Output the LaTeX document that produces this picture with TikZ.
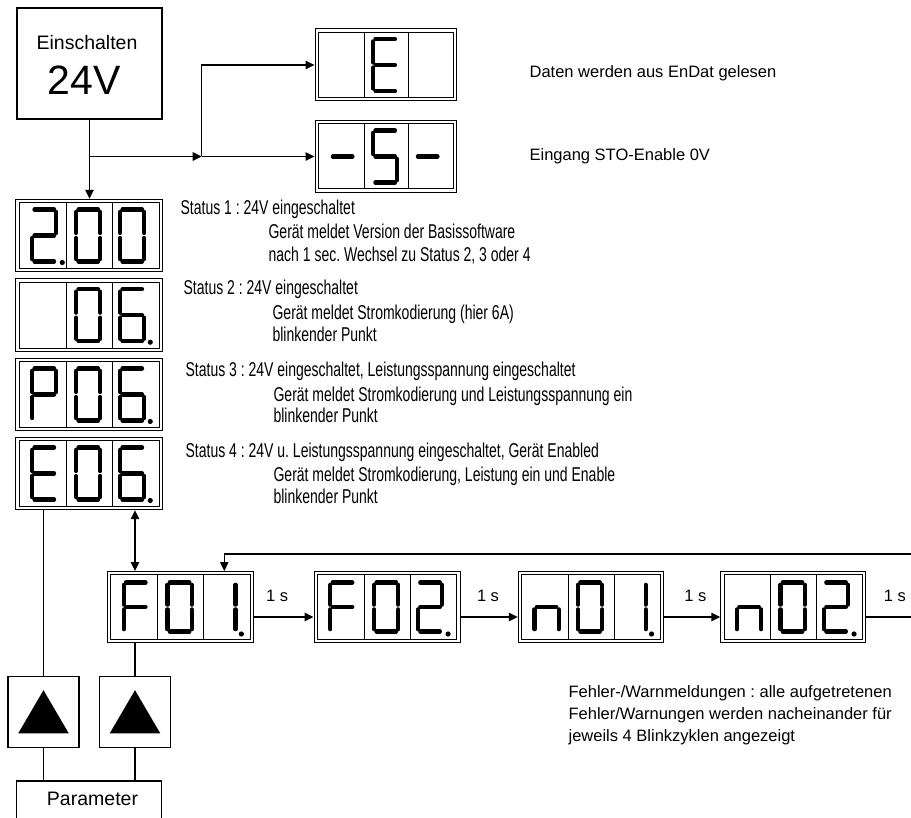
\documentclass[tikz,border=0pt]{standalone}
\usepackage{fontspec}
\setmainfont{Liberation Sans}
\newfontfamily\narrowfont{Liberation Sans}[FakeStretch=0.70]
\usetikzlibrary{arrows.meta,calc}
\frenchspacing

% segments of one digit, centre (0,0), y pointing down
\def\sega{(-9.8,-26) -- (9.8,-26)}
\def\segb{(12.1,-23.6) -- (12.1,-2.5)}
\def\segc{(12.1,2.5) -- (12.1,23.6)}
\def\segd{(-9.8,26) -- (9.8,26)}
\def\sege{(-12.1,2.5) -- (-12.1,23.6)}
\def\segf{(-12.1,-23.6) -- (-12.1,-2.5)}
\def\segg{(-9.8,0) -- (9.8,0)}
\def\segnone{(0,0)}

% lit segments of each symbol
\expandafter\def\csname segs0\endcsname{a,b,c,d,e,f}
\expandafter\def\csname segs1\endcsname{b,c}
\expandafter\def\csname segs2\endcsname{a,b,d,e,g}
\expandafter\def\csname segs6\endcsname{a,c,d,e,f,g}
\expandafter\def\csname segs-\endcsname{g}
\def\segsE{a,d,e,f,g}
\def\segsF{a,e,f,g}
\def\segsP{a,b,e,f,g}
\def\segsS{a,c,d,f,g}
\def\segsn{c,e,g}
\def\segsx{none}

\tikzset{
  seg/.style={line width=4.2pt, line cap=round},
  cell/.style={line width=0.8pt},
  disp/.style={draw, rectangle, double, double distance=2.3pt, line width=1pt,
    inner sep=0pt, outer sep=2.15pt},
  box/.style={draw, rectangle, line width=1.4pt, inner sep=0pt},
  txt/.style={anchor=base west, inner sep=0pt, font=\narrowfont\fontsize{20}{24}\selectfont},
  note/.style={anchor=base west, inner sep=0pt, font=\fontsize{16.5}{20}\selectfont},
  lbl/.style={anchor=base, inner sep=0pt, yshift=15.6pt, font=\fontsize{16.5}{20}\selectfont}
}

% x, y, symbol, dot, digit height scale
\newcommand{\digit}[5]{%
  \begin{scope}[shift={(#1,#2)}]
    \expandafter\let\expandafter\seglist\csname segs#3\endcsname
    \begin{scope}[yscale=#5]
      \foreach \s in \seglist {%
        \expandafter\let\expandafter\segpath\csname seg\s\endcsname
        \draw[seg] \segpath;}
    \end{scope}
    \ifnum#4=1 \fill (18,27) circle (2.6);\fi
  \end{scope}}

% name, cx, cy, width, height, symbols, cell with dot, digit scale
\newcommand{\panel}[8]{%
  \node[disp, minimum width={#4-3.3}, minimum height={#5-3.3}] (#1) at (#2,#3) {};
  \foreach \f in {0.345,0.66}
    \draw[cell] ({#2-#4/2+\f*#4},{#3-#5/2+3.3}) -- ++(0,{#5-6.6});
  \foreach \sym [count=\k] in {#6} {%
    \pgfmathsetmacro\digx{#2-#4/2+(0.195+0.3*(\k-1))*#4}
    \ifnum\k=#7 \def\dotflag{1}\else\def\dotflag{0}\fi
    \digit{\digx}{#3}{\sym}{\dotflag}{#8}}}

\begin{document}
\begin{tikzpicture}[x=1pt, y=-1pt, line width=1.2pt, >={Triangle[length=9pt,width=8.5pt]}]
\useasboundingbox (0,0) rectangle (911,818);
\clip (0,0) rectangle (911,818);

% switching on
\node[box, minimum width=145, minimum height=111] (power) at (89.5,63.5) {};
\node[anchor=base, inner sep=0pt, font=\fontsize{19.5}{22}\selectfont] (powtxt) at (87,50) {Einschalten};
\node[anchor=base, inner sep=0pt, font=\fontsize{41}{46}\selectfont] (powvolt) at (84,95) {24V};

\panel{dspE}{385.9}{65}{141.7}{72}{x,E,x}{0}{1}
\panel{dspS}{385.9}{156.5}{141.7}{71.6}{-,S,-}{0}{1}
\node[note] (txtE) at (529,78) {Daten werden aus EnDat gelesen};
\node[note] (txtS) at (529,161) {Eingang STO-Enable 0V};

\coordinate (split) at (89.5,156.5);
\coordinate (fork) at (201.7,156.5);
\draw[->] (split) -- (fork);
\draw[->] (fork) -- (dspS);
\draw[->] (fork) |- (dspE);

% status displays
\panel{st1}{89}{235.5}{146.6}{72.4}{2,0,0}{1}{1}
\panel{st2}{89}{315.2}{146.6}{72.4}{x,0,6}{3}{1}
\panel{st3}{89}{394.5}{146.6}{72.4}{P,0,6}{3}{1}
\panel{st4}{89}{473.5}{146.6}{72.4}{E,0,6}{3}{1}
\draw[->] (power) -- (power |- st1.north);

\node[txt] (s1a) at (180,215) {Status 1 : 24V eingeschaltet};
\node[txt] (s1b) at (268,239) {Gerät meldet Version der Basissoftware};
\node[txt] (s1c) at (268,262) {nach 1 sec. Wechsel zu Status 2, 3 oder 4};
\node[txt] (s2a) at (183,295) {Status 2 : 24V eingeschaltet};
\node[txt] (s2b) at (272,320) {Gerät meldet Stromkodierung (hier 6A)};
\node[txt] (s2c) at (272,342) {blinkender Punkt};
\node[txt] (s3a) at (185,377) {Status 3 : 24V eingeschaltet, Leistungsspannung eingeschaltet};
\node[txt] (s3b) at (273,402) {Gerät meldet Stromkodierung und Leistungsspannung ein};
\node[txt] (s3c) at (273,423) {blinkender Punkt};
\node[txt] (s4a) at (185,457) {Status 4 : 24V u. Leistungsspannung eingeschaltet, Gerät Enabled};
\node[txt] (s4b) at (273,482) {Gerät meldet Stromkodierung, Leistung ein und Enable};
\node[txt] (s4c) at (273,503) {blinkender Punkt};

% error / warning loop
\panel{F01}{180.3}{607}{146}{71}{F,0,1}{3}{0.94}
\panel{F02}{387}{607}{146}{71}{F,0,2}{3}{0.94}
\panel{n01}{590.8}{607}{145}{71}{n,0,1}{3}{0.94}
\panel{n02}{793.3}{607}{145}{71}{n,0,2}{3}{0.94}

\draw[->] ([yshift=-10pt]F01.east) -- node[lbl,pos=0.39] (t1) {1 s} ([yshift=-10pt]F02.west);
\draw[->] ([yshift=-10pt]F02.east) -- node[lbl,pos=0.48] (t2) {1 s} ([yshift=-10pt]n01.west);
\draw[->] ([yshift=-10pt]n01.east) -- node[lbl,pos=0.56] (t3) {1 s} ([yshift=-10pt]n02.west);
\coordinate (out) at (911,617);
\draw ([yshift=-10pt]n02.east) -- node[lbl,pos=0.64] (t4) {1 s} (out);
\coordinate (back) at (911,554);
\draw[->] (back) -| ([xshift=44pt]F01.north);
\draw[<->] ([xshift=46pt]st4.south) -- ([xshift=46pt]st4.south |- F01.north);

\node[note] (err1) at (568,697) {Fehler-/Warnmeldungen : alle aufgetretenen};
\node[note] (err2) at (568,719) {Fehler/Warnungen werden nacheinander für};
\node[note] (err3) at (568,741) {jeweils 4 Blinkzyklen angezeigt};

% keys
\node[box, minimum size=71] (keyL) at (43.5,711.7) {};
\node[box, minimum size=71] (keyR) at (135,711.7) {};
\foreach \k in {keyL,keyR}
  \fill ($(\k.center)+(0,-21.5)$) -- ($(\k.center)+(-25.3,21.7)$) -- ($(\k.center)+(25.3,21.7)$) -- cycle;

\node[box, minimum width=145, minimum height=60] (param) at (89.2,811) {};
\node[anchor=base, inner sep=0pt, font=\fontsize{19.5}{22}\selectfont] (partxt) at (92.5,805) {Parameter};

\draw ([xshift=-45.5pt]st4.south) -- (keyL);
\draw ([xshift=-45.3pt]F01.south) -- (keyR);
\draw (keyL) -- (keyL |- param.north);
\draw (keyR) -- (keyR |- param.north);
\end{tikzpicture}
\end{document}
